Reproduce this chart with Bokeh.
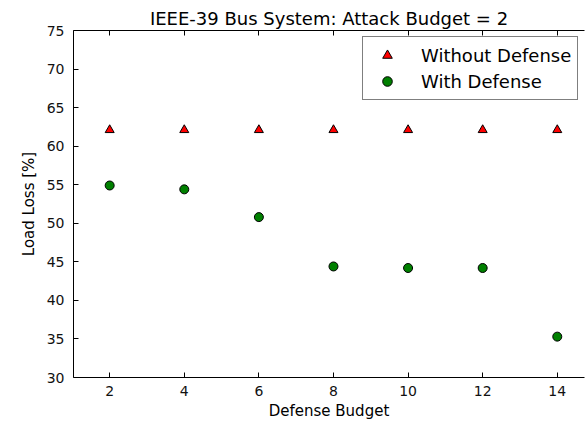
from bokeh.plotting import figure
from bokeh.models import LinearAxis, Legend, LegendItem, FixedTicker, CustomJSTickFormatter
from bokeh.embed import file_html
from bokeh.resources import INLINE

defense_budget = [2, 4, 6, 8, 10, 12, 14]
without_defense = [62.1, 62.1, 62.1, 62.1, 62.1, 62.1, 62.1]
with_defense = [54.9, 54.4, 50.8, 44.4, 44.2, 44.2, 35.3]
x_ticks = [2, 4, 6, 8, 10, 12, 14]
y_ticks = [30, 35, 40, 45, 50, 55, 60, 65, 70, 75]

FONT = "DejaVu Sans"

p = figure(width=585, height=422, x_range=(1.03, 14.73), y_range=(30, 75),
           output_backend="svg", toolbar_location=None,
           min_border_left=73, min_border_right=1, min_border_top=30, min_border_bottom=44,
           x_axis_label="Defense Budget", y_axis_label="Load Loss [%]")
p.outline_line_color = None
p.grid.visible = False
p.background_fill_color = "white"
p.border_fill_color = "white"

p.title.text = "IEEE-39 Bus System: Attack Budget = 2"
p.title.text_font = FONT
p.title.text_font_size = "18px"
p.title.text_font_style = "normal"
p.title.align = "center"
p.title.standoff = 4
p.title.text_color = "black"

for ax in (p.xaxis[0], p.yaxis[0]):
    ax.axis_line_color = "black"
    ax.major_tick_line_color = "black"
    ax.major_tick_in = 5
    ax.major_tick_out = 0
    ax.minor_tick_line_color = None
    ax.major_label_text_font = FONT
    ax.major_label_text_font_size = "14px"
    ax.major_label_text_color = "#111111"
    ax.axis_label_text_font = FONT
    ax.axis_label_text_font_size = "15px"
    ax.axis_label_text_font_style = "normal"
    ax.axis_label_text_color = "black"

p.xaxis[0].ticker = FixedTicker(ticks=x_ticks)
p.yaxis[0].ticker = FixedTicker(ticks=y_ticks)
p.xaxis[0].major_label_standoff = 8
p.xaxis[0].axis_label_standoff = 3
p.yaxis[0].major_label_standoff = 9
p.yaxis[0].axis_label_standoff = 6

top = LinearAxis(ticker=FixedTicker(ticks=x_ticks),
                 formatter=CustomJSTickFormatter(code="return ''"),
                 major_label_standoff=0, major_tick_in=5, major_tick_out=0,
                 minor_tick_line_color=None, axis_line_color="black",
                 major_tick_line_color="black")
p.add_layout(top, "above")

r1 = p.scatter(defense_budget, without_defense, marker="triangle", size=9,
               fill_color="#ff0000", line_color="black", line_width=1)
r2 = p.scatter(defense_budget, with_defense, marker="circle", size=9,
               fill_color="#008000", line_color="black", line_width=1)

legend = Legend(items=[LegendItem(label="Without Defense", renderers=[r1]),
                       LegendItem(label="With Defense", renderers=[r2])],
                location=(289, 277), margin=0,
                border_line_color="black", border_line_width=1,
                background_fill_color="white", background_fill_alpha=1,
                label_text_font=FONT, label_text_font_size="18px",
                label_text_color="black",
                glyph_width=36, glyph_height=24, label_height=24,
                label_standoff=16, padding=6, spacing=2)
p.add_layout(legend, "center")

open("out.html", "w").write(file_html(p, INLINE))
